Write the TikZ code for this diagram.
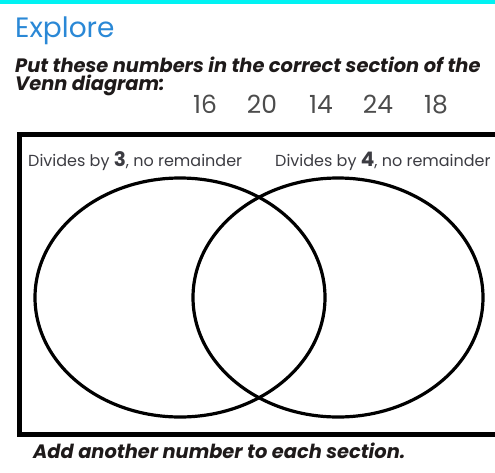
\documentclass[tikz,border=0pt]{standalone}
\usepackage{fontspec}
\setmainfont{Poppins}
\usetikzlibrary{positioning}
\definecolor{topbar}{RGB}{0,242,242}
\definecolor{titleblue}{RGB}{42,136,214}
\definecolor{textdark}{RGB}{30,26,26}
\definecolor{labelgray}{RGB}{60,60,66}

\begin{document}
\begin{tikzpicture}[
  x=1pt, y=-1pt,
  venn/.style={line width=3.2pt, draw=black},
  frame/.style={line width=5pt, draw=black},
  task/.style={font=\bfseries\itshape\fontsize{19.4}{21}\selectfont, text=textdark, inner sep=0pt, anchor=base west},
  setlabel/.style={font=\fontsize{16}{18}\selectfont, text=labelgray, inner sep=0pt, anchor=base west},
  num/.style={font=\fontsize{25}{28}\selectfont, text=black!70, inner sep=0pt, anchor=base}
]
  \useasboundingbox (0,0) rectangle (495,472);
  \fill[topbar] (0,0) rectangle (495,4);

  \node[anchor=base west, inner sep=0pt, text=titleblue, font=\fontsize{28}{32}\selectfont] (title) at (15,37) {Explore};

  \node[task] (line1) at (15,72) {Put these numbers in the correct section of the};
  \node[task] (line2) at (15,90) {Venn diagram:};

  \node[num] (n16) at (205,113) {16};
  \node[num] (n20) at (262,113) {20};
  \node[num] (n14) at (321,113) {14};
  \node[num] (n24) at (378,113) {24};
  \node[num] (n18) at (436,113) {18};

  % box, open to the right
  \draw[frame] (497,134) -- (19.5,134) -- (19.5,434) -- (497,434);

  \node[setlabel] (labA) at (28,166) {Divides by {\fontsize{20}{22}\selectfont\bfseries 3}, no remainder};
  \node[setlabel] (labB) at (275,166) {Divides by {\fontsize{20}{22}\selectfont\bfseries 4}, no remainder};

  \draw[venn] (180,297.5) ellipse [x radius=145, y radius=119.5];
  \draw[venn] (338,297.5) ellipse [x radius=145, y radius=119.5];

  \node[task] (footer) at (33,458) {Add another number to each section.};
\end{tikzpicture}
\end{document}
